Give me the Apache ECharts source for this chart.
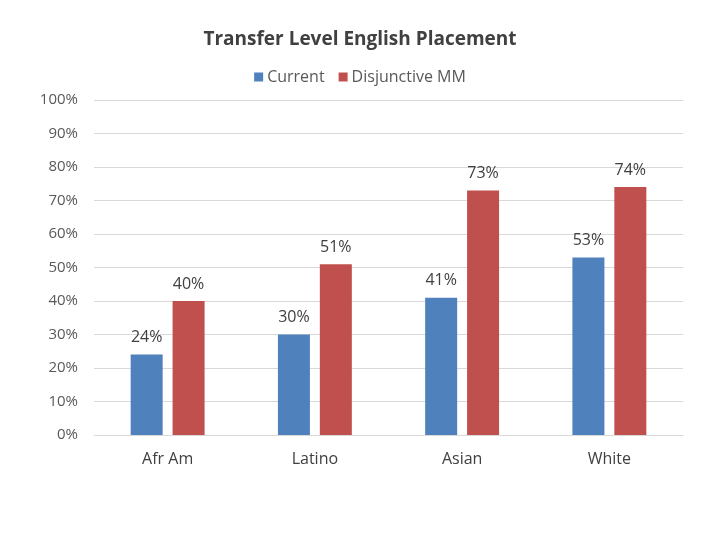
<!DOCTYPE html>
<html>
<head>
    <meta charset="utf-8" />
    <title>Transfer Level English Placement</title>
    <style>
        html, body { margin: 0; padding: 0; background: #fff; }
        #barchart { width: 720px; height: 540px; }
    </style>
</head>
<body>
    <div id="barchart"></div>
    <script src="https://cdn.jsdelivr.net/npm/echarts@6/dist/echarts.min.js"></script>
    <script>
        var categories = ['Afr Am', 'Latino', 'Asian', 'White'];
        var currentVals = [0.24, 0.30, 0.41, 0.53];
        var disjunctiveVals = [0.40, 0.51, 0.73, 0.74];
        var seriesNames = ['Current', 'Disjunctive MM'];

        var font = '"Open Sans", "Liberation Sans", sans-serif';
        var pct = function (v) { return Math.round(v * 100) + '%'; };

        var labelStyle = {
            show: true,
            position: 'top',
            distance: 9,
            color: '#404040',
            fontSize: 16,
            fontFamily: font,
            formatter: function (p) { return pct(p.value); }
        };

        var option = {
            backgroundColor: '#fff',
            animation: false,
            title: {
                text: 'Transfer Level English Placement',
                left: 'center',
                top: 25,
                textStyle: {
                    color: '#404040',
                    fontSize: 19,
                    fontWeight: 'bold',
                    fontFamily: font
                }
            },
            legend: {
                data: seriesNames,
                top: 64,
                left: 'center',
                itemWidth: 9,
                itemHeight: 9,
                itemGap: 14,
                icon: 'rect',
                textStyle: {
                    color: '#595959',
                    fontSize: 16,
                    fontFamily: font,
                    padding: [0, 0, 0, -1]
                }
            },
            grid: {
                left: 94,
                right: 37,
                top: 100,
                bottom: 105
            },
            xAxis: {
                type: 'category',
                data: categories,
                axisTick: { show: false },
                axisLine: { lineStyle: { color: '#D9D9D9' } },
                axisLabel: {
                    color: '#404040',
                    fontSize: 16,
                    fontFamily: font,
                    margin: 16
                }
            },
            yAxis: {
                type: 'value',
                min: 0,
                max: 1,
                interval: 0.1,
                axisLine: { show: false },
                axisTick: { show: false },
                splitLine: { lineStyle: { color: '#D9D9D9' } },
                axisLabel: {
                    color: '#595959',
                    fontSize: 15,
                    fontFamily: font,
                    margin: 16,
                    formatter: pct
                }
            },
            series: [{
                name: seriesNames[0],
                type: 'bar',
                data: currentVals,
                barWidth: 32,
                barGap: '31%',
                itemStyle: { color: '#4F81BD' },
                label: labelStyle
            }, {
                name: seriesNames[1],
                type: 'bar',
                data: disjunctiveVals,
                barWidth: 32,
                itemStyle: { color: '#C0504D' },
                label: labelStyle
            }]
        };

        var chart = echarts.init(document.getElementById('barchart'));
        chart.setOption(option);
    </script>
</body>
</html>
